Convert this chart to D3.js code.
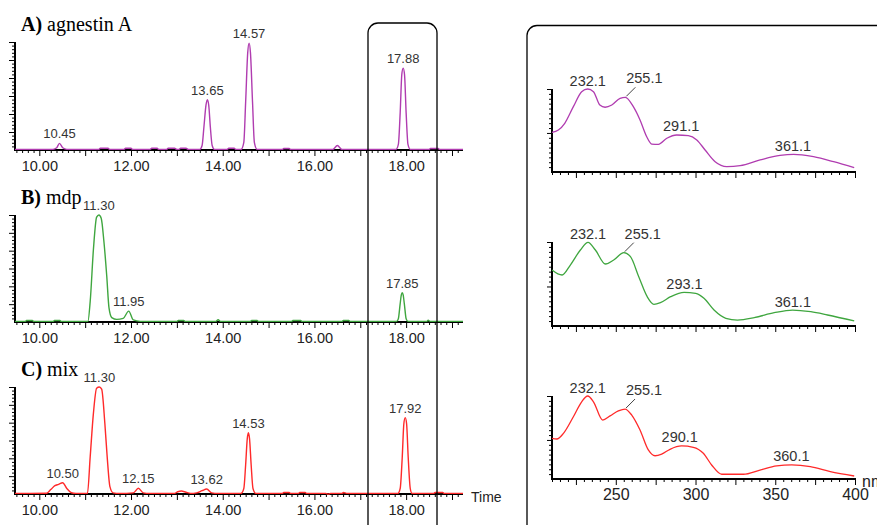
<!DOCTYPE html>
<html>
<head>
<meta charset="utf-8">
<script src="https://cdn.jsdelivr.net/npm/d3@7"></script>
<style>
  body { margin: 0; background: #fff; }
  svg { display: block; }
</style>
</head>
<body>
<script>
// ---- chromatograms (time in min, relative intensity 0-100) ----
const timeDomain = [9.47, 19.24];
const timeLabels = [10, 12, 14, 16, 18];

const traceA = [
  [9.47, 1.5], [10.3, 1.5], [10.38, 3], [10.44, 7], [10.51, 3], [10.6, 1.5],
  [11.3, 1.5], [11.33, 2.5], [11.5, 2.5], [11.53, 1.5],
  [11.85, 1.5], [11.88, 2.5], [12.0, 2.5], [12.03, 1.5],
  [12.42, 1.5], [12.45, 2.5], [12.57, 2.5], [12.6, 1.5],
  [12.78, 1.5], [12.81, 2.5], [12.95, 2.5], [13.0, 1.5],
  [13.05, 1.5], [13.08, 2.5], [13.2, 2.5], [13.25, 1.5],
  [13.5, 1.5], [13.55, 5], [13.59, 22], [13.635, 42], [13.665, 47], [13.695, 42], [13.73, 22], [13.77, 5], [13.82, 1.5],
  [14.1, 1.5], [14.13, 2.5], [14.25, 2.5], [14.28, 1.5],
  [14.40, 1.5], [14.46, 8], [14.50, 45], [14.545, 90], [14.575, 99], [14.605, 90], [14.65, 45], [14.69, 8], [14.75, 1.5],
  [15.3, 1.5], [15.33, 2.3], [15.45, 2.3], [15.48, 1.5],
  [16.4, 1.5], [16.5, 5], [16.6, 1.5],
  [17.78, 1.5], [17.83, 6], [17.87, 35], [17.905, 70], [17.935, 76], [17.965, 70], [18.0, 35], [18.04, 6], [18.09, 1.5],
  [18.5, 1.5], [18.53, 2.3], [18.7, 2.3], [18.73, 1.5],
  [19.24, 1.5]
];
const peaksA = [['10.45', 10.44, 7], ['13.65', 13.665, 47], ['14.57', 14.575, 99], ['17.88', 17.935, 76]];

const traceB = [
  [9.47, 1.5], [9.7, 1.5], [9.72, 2.3], [9.85, 2.3], [9.88, 1.5],
  [10.3, 1.5], [10.33, 2.3], [10.45, 2.3], [10.48, 1.5],
  [11.06, 1.5], [11.11, 20], [11.18, 68], [11.25, 98], [11.3, 100], [11.35, 97],
  [11.41, 75], [11.47, 44], [11.52, 14], [11.58, 5], [11.69, 3.4], [11.83, 4.3],
  [11.95, 11], [12.05, 2.8], [12.2, 1.5],
  [13.0, 1.5], [13.03, 2.3], [13.15, 2.3], [13.18, 1.5],
  [13.85, 1.5], [13.9, 3], [13.95, 1.5],
  [14.6, 1.5], [14.63, 2.3], [14.75, 2.3], [14.78, 1.5],
  [15.5, 1.5], [15.53, 2.3], [15.7, 2.3], [15.73, 1.5],
  [16.6, 1.5], [16.63, 2.3], [16.75, 2.3], [16.78, 1.5],
  [17.79, 1.5], [17.83, 4], [17.87, 18], [17.895, 26], [17.915, 28], [17.935, 26], [17.96, 18], [18.0, 4], [18.04, 1.5],
  [18.45, 1.5], [18.48, 2.5], [18.52, 1.5],
  [19.24, 1.5]
];
const peaksB = [['11.30', 11.3, 100], ['11.95', 11.95, 11], ['17.85', 17.915, 28]];

const traceC = [
  [9.47, 1.5], [10.16, 1.6], [10.25, 5], [10.34, 8.6], [10.42, 9.9], [10.51, 11.4], [10.6, 6], [10.7, 2.1], [10.8, 1.5],
  [11.05, 1.5], [11.11, 35.5], [11.18, 75.6], [11.25, 98.8], [11.31, 100], [11.36, 98],
  [11.43, 66], [11.48, 35.5], [11.54, 7.7], [11.61, 2], [11.75, 1.5],
  [12.05, 2], [12.16, 6.2], [12.27, 2], [12.4, 1.5],
  [12.95, 1.5], [13.02, 3], [13.1, 3.7], [13.2, 2.5], [13.3, 1.5],
  [13.43, 2], [13.55, 4], [13.65, 5.5], [13.76, 2], [13.9, 1.5],
  [14.40, 1.5], [14.46, 6], [14.50, 28], [14.535, 52], [14.56, 57.7], [14.585, 52], [14.62, 28], [14.66, 6], [14.72, 1.5],
  [15.3, 1.5], [15.33, 2.3], [15.45, 2.3], [15.48, 1.5],
  [15.65, 1.5], [15.68, 2.3], [15.8, 2.3], [15.83, 1.5],
  [16.25, 1.5], [16.3, 0.8], [16.35, 1.5],
  [16.6, 1.5], [16.63, 2.3], [16.7, 1.5],
  [17.82, 1.5], [17.87, 6], [17.915, 35], [17.95, 66], [17.98, 71.6], [18.01, 66], [18.045, 35], [18.09, 6], [18.13, 1.5],
  [18.6, 1.5], [18.63, 2.3], [18.8, 2.3], [18.83, 1.5],
  [19.24, 1.5]
];
const peaksC = [['10.50', 10.51, 11.4], ['11.30', 11.31, 100], ['12.15', 12.16, 6.2], ['13.62', 13.65, 5.5], ['14.53', 14.56, 57.7], ['17.92', 17.98, 71.6]];

// ---- UV spectra (nm, relative absorbance 0-100) ----
const nmDomain = [210, 400];
const nmLabels = [250, 300, 350, 400];

const specA = [
  [210, 47.8], [214, 50.6], [218, 58.7], [223.4, 78.7], [228.6, 96.8], [232.4, 100], [236, 96.8],
  [240, 80.7], [243.3, 78], [247.5, 80.7], [252.7, 88.8], [256, 90], [261, 78.7], [265.2, 62.7],
  [269.4, 42.5], [272.5, 33.7], [276.7, 33.3], [282, 40.6], [288.2, 44.6], [295.5, 43.8],
  [300.8, 38.6], [306, 26.5], [312.3, 12.4], [319.6, 6.4], [328, 7.6], [340.5, 14.5],
  [353, 20], [361.5, 21.3], [374, 18.4], [386.6, 12.4], [399.5, 5.2]
];
const specPeaksA = [['232.1', 232.4, 100], ['255.1', 256, 90], ['291.1', 291, 44.6], ['361.1', 361.1, 21.3]];

const specB = [
  [210, 66.7], [216.3, 60.7], [221.5, 72.6], [227.8, 90.5], [232.6, 99.6], [237.2, 90.5],
  [243.5, 73.8], [248.7, 78.6], [255, 87.3], [259.2, 82.5], [264.4, 58.7], [269.7, 34.9],
  [273.9, 25.8], [278, 27.8], [284.4, 34.9], [292.8, 40.1], [300.1, 38.9], [305.3, 33],
  [311.6, 19], [319, 9.2], [326.3, 7.1], [336.8, 9.9], [349.3, 15.8], [360.8, 19],
  [372.3, 17], [382.8, 13.1], [399.5, 6]
];
const specPeaksB = [['232.1', 232.6, 99.6], ['255.1', 255, 87.3], ['293.1', 293.1, 40.1], ['361.1', 361, 19]];

const specC = [
  [210, 49], [213, 48.2], [217.2, 55], [223.4, 75], [228.6, 93], [232.4, 100], [236, 93],
  [241.8, 71], [246.4, 76], [251.6, 82], [255.8, 84.3], [260, 77], [265.2, 59], [270.4, 35],
  [274.6, 28], [278.8, 30], [284, 35.8], [291.3, 39.8], [298.6, 38.2], [304.9, 31],
  [310.1, 16.9], [316.4, 5.7], [330, 5.7], [340.4, 10.8], [350.9, 15.7], [360.3, 16.9],
  [372, 14.8], [384.5, 8.8], [399.5, 3.6]
];
const specPeaksC = [['232.1', 232.4, 100], ['255.1', 255.8, 84.3], ['290.1', 290.1, 39.8], ['360.1', 360.1, 16.9]];

const colors = { A: '#b03cb0', B: '#3fa63f', C: '#ff2a2a' };

const W = 877, H = 525;
const sans = "'Liberation Sans', Arial, sans-serif";
const serif = "'Liberation Serif', 'Times New Roman', serif";

const svg = d3.select('body').append('svg')
  .attr('width', W)
  .attr('height', H)
  .style('background', '#fff');

const x = d3.scaleLinear().domain(timeDomain).range([15, 463]);
const minorTimes = d3.range(9.5, 19.25, 0.125);
const wholeTimes = d3.range(10, 20, 1).filter(d => d <= timeDomain[1]);

function drawChrom(trace, peaks, title, name, color, top, bottom, showTime) {
  const y = d3.scaleLinear().domain([0, 100]).range([bottom + 1, top]);
  const g = svg.append('g');

  // y axis ticks (decorative intensity ticks)
  const yt = d3.scaleLinear().domain([0, 30]).range([bottom, top]);
  const minorY = d3.range(0, 31);
  g.append('g')
    .attr('transform', `translate(${x.range()[0]},0)`)
    .call(d3.axisLeft(yt).tickValues(minorY.filter(d => d % 5 != 0)).tickSize(3).tickFormat(''));
  g.append('g')
    .attr('transform', `translate(${x.range()[0]},0)`)
    .call(d3.axisLeft(yt).tickValues(minorY.filter(d => d % 5 == 0 && d > 0)).tickSize(6).tickFormat(''));

  // x axis ticks
  g.append('g')
    .attr('transform', `translate(0,${bottom})`)
    .call(d3.axisBottom(x).tickValues(minorTimes.filter(d => !Number.isInteger(d))).tickSize(3).tickFormat(''));
  g.append('g')
    .attr('transform', `translate(0,${bottom})`)
    .call(d3.axisBottom(x).tickValues(wholeTimes).tickSize(6).tickFormat(''));
  g.append('g')
    .attr('class', 'xlab')
    .attr('transform', `translate(0,${bottom})`)
    .call(d3.axisBottom(x).tickValues(timeLabels).tickSize(0).tickPadding(11).tickFormat(d3.format('.2f')));

  g.selectAll('.domain').remove();
  g.selectAll('.tick line').attr('stroke', '#000').attr('stroke-width', 1);
  g.selectAll('.xlab text')
    .style('font-family', sans)
    .style('font-size', '14.5px')
    .attr('fill', '#222');

  // axis lines
  g.append('line')
    .attr('x1', x.range()[0]).attr('x2', x.range()[1])
    .attr('y1', bottom).attr('y2', bottom)
    .attr('stroke', '#000').attr('stroke-width', 2);
  g.append('line')
    .attr('x1', x.range()[0]).attr('x2', x.range()[0])
    .attr('y1', top).attr('y2', bottom + 1)
    .attr('stroke', '#000').attr('stroke-width', 2);

  // trace
  const line = d3.line()
    .x(d => x(d[0]))
    .y(d => y(d[1]))
    .curve(d3.curveMonotoneX);
  g.append('path')
    .datum(trace)
    .attr('d', line)
    .attr('fill', 'none')
    .attr('stroke', color)
    .attr('stroke-width', 1.4);

  // peak labels
  g.selectAll('text.peak').data(peaks).join('text')
    .attr('class', 'peak')
    .attr('x', d => x(d[1]))
    .attr('y', d => y(d[2]) - 5)
    .attr('text-anchor', 'middle')
    .style('font-family', sans)
    .style('font-size', '13px')
    .attr('fill', '#333')
    .text(d => d[0]);

  // panel title
  const t = g.append('text')
    .attr('x', 21)
    .attr('y', top - 11)
    .style('font-family', serif)
    .style('font-size', '20px')
    .attr('fill', '#000');
  t.append('tspan').style('font-weight', 'bold').text(title);
  t.append('tspan').text(' ' + name);

  if (showTime) {
    g.append('text')
      .attr('x', 471)
      .attr('y', bottom + 8)
      .style('font-family', sans)
      .style('font-size', '14px')
      .attr('fill', '#222')
      .text('Time');
  }
}

drawChrom(traceA, peaksA, 'A)', 'agnestin A', colors.A, 42, 150, false);
drawChrom(traceB, peaksB, 'B)', 'mdp', colors.B, 215, 322, false);
drawChrom(traceC, peaksC, 'C)', 'mix', colors.C, 387, 494, true);

// ---- spectra ----
const sx = d3.scaleLinear().domain(nmDomain).range([552, 855]);
const nmMinor = d3.range(210, 401, 5);

function drawSpec(spec, peaks, color, top, bottom, showLabels) {
  const y = d3.scaleLinear().domain([0, 100]).range([bottom, top]);
  const g = svg.append('g');

  const yt = d3.scaleLinear().domain([0, 17]).range([bottom, top]);
  const yv = d3.range(0, 18);
  g.append('g')
    .attr('transform', `translate(${sx.range()[0]},0)`)
    .call(d3.axisLeft(yt).tickValues(yv.filter(d => d != 8 && d != 17 && d > 0)).tickSize(3).tickFormat(''));
  g.append('g')
    .attr('transform', `translate(${sx.range()[0]},0)`)
    .call(d3.axisLeft(yt).tickValues([8, 17]).tickSize(5).tickFormat(''));

  g.append('g')
    .attr('transform', `translate(0,${bottom})`)
    .call(d3.axisBottom(sx).tickValues(nmMinor.filter(d => d % 25 != 0)).tickSize(3).tickFormat(''));
  g.append('g')
    .attr('transform', `translate(0,${bottom})`)
    .call(d3.axisBottom(sx).tickValues(nmMinor.filter(d => d % 25 == 0)).tickSize(6).tickFormat(''));
  if (showLabels) {
    g.append('g')
      .attr('class', 'nmlab')
      .attr('transform', `translate(0,${bottom})`)
      .call(d3.axisBottom(sx).tickValues(nmLabels).tickSize(0).tickPadding(10).tickFormat(d3.format('d')));
    g.append('text')
      .attr('x', 862)
      .attr('y', bottom + 8)
      .style('font-family', sans)
      .style('font-size', '16px')
      .attr('fill', '#222')
      .text('nm');
  }
  g.selectAll('.domain').remove();
  g.selectAll('.tick line').attr('stroke', '#000');
  g.selectAll('.nmlab text')
    .style('font-family', sans)
    .style('font-size', '16px')
    .attr('fill', '#222');

  g.append('line')
    .attr('x1', sx.range()[0]).attr('x2', sx.range()[1] + 1)
    .attr('y1', bottom).attr('y2', bottom)
    .attr('stroke', '#000').attr('stroke-width', 2);
  g.append('line')
    .attr('x1', sx.range()[0]).attr('x2', sx.range()[0])
    .attr('y1', top).attr('y2', bottom + 1)
    .attr('stroke', '#000').attr('stroke-width', 2);

  const line = d3.line()
    .x(d => sx(d[0]))
    .y(d => y(d[1]))
    .curve(d3.curveMonotoneX);
  g.append('path')
    .datum(spec)
    .attr('d', line)
    .attr('fill', 'none')
    .attr('stroke', color)
    .attr('stroke-width', 1.3);

  // labels; the second (shoulder) label sits up-right with a leader line
  peaks.forEach((p, i) => {
    const px = sx(p[1]), py = y(p[2]);
    if (i == 1) {
      g.append('line')
        .attr('x1', px + 1).attr('y1', py - 1)
        .attr('x2', px + 10).attr('y2', py - 10)
        .attr('stroke', '#444').attr('stroke-width', 1);
      g.append('text')
        .attr('x', px + 19).attr('y', py - 14)
        .attr('text-anchor', 'middle')
        .style('font-family', sans).style('font-size', '14.5px')
        .attr('fill', '#333')
        .text(p[0]);
    } else {
      g.append('text')
        .attr('x', px).attr('y', py - 3.5)
        .attr('text-anchor', 'middle')
        .style('font-family', sans).style('font-size', '14.5px')
        .attr('fill', '#333')
        .text(p[0]);
    }
  });
}

drawSpec(specA, specPeaksA, colors.A, 89, 172, false);
drawSpec(specB, specPeaksB, colors.B, 242, 326, false);
drawSpec(specC, specPeaksC, colors.C, 396, 479, true);

// ---- frames ----
svg.append('rect')
  .attr('x', 368).attr('y', 23)
  .attr('width', 69).attr('height', 600)
  .attr('rx', 10)
  .attr('fill', 'none')
  .attr('stroke', '#000')
  .attr('stroke-width', 1.3);
svg.append('rect')
  .attr('x', 527).attr('y', 25.5)
  .attr('width', 420).attr('height', 600)
  .attr('rx', 10)
  .attr('fill', 'none')
  .attr('stroke', '#000')
  .attr('stroke-width', 1.3);
</script>
</body>
</html>
